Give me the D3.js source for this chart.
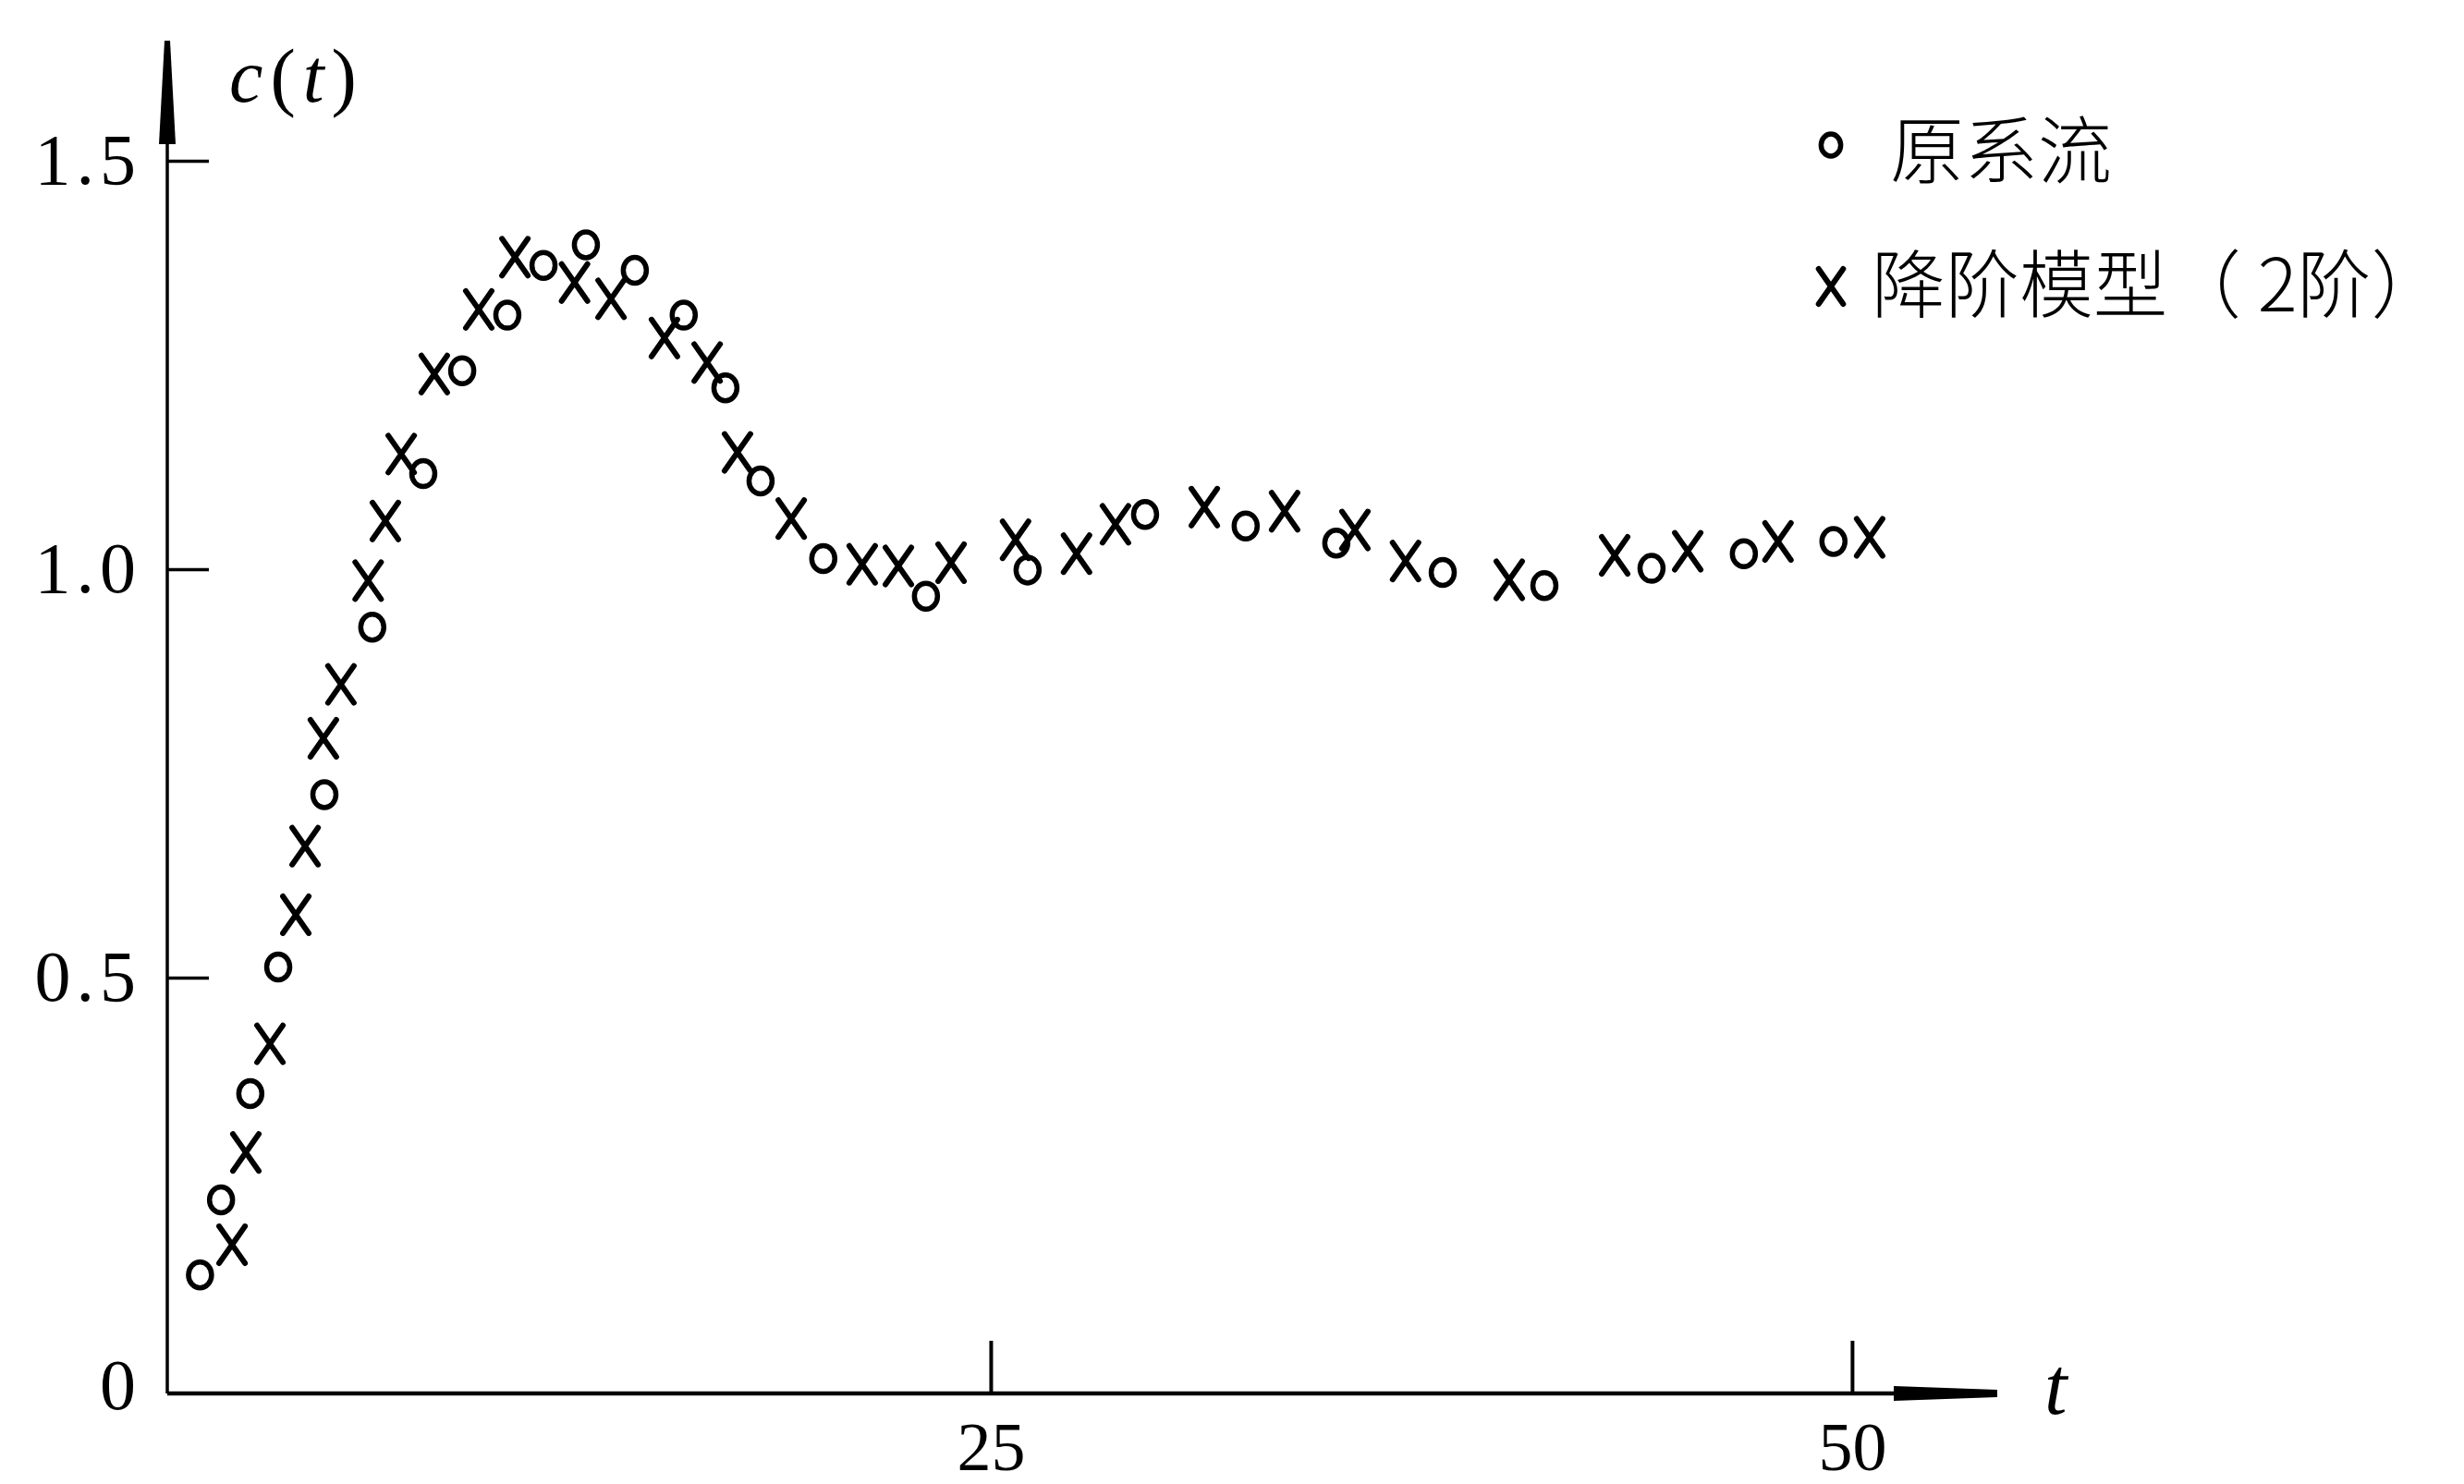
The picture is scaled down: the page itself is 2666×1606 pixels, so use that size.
<!DOCTYPE html>
<html><head><meta charset="utf-8">
<script src="https://cdn.jsdelivr.net/npm/d3@7"></script>
<style>html,body{margin:0;padding:0;background:#fff;} svg{display:block}</style>
</head><body>
<svg id="chart" width="2666" height="1606"></svg>
<script>
// ---- data ----
const tOriginal = [2.05, 2.66, 3.51, 4.32, 5.66, 7.05, 8.53, 9.66, 10.97, 12.02, 13.25, 14.67, 16.09, 17.30, 18.32, 20.14, 23.12, 26.07, 29.48, 32.40, 35.03, 38.12, 41.07, 44.18, 46.86, 49.46];
const cOriginal = [0.136, 0.228, 0.358, 0.513, 0.724, 0.929, 1.117, 1.243, 1.311, 1.372, 1.397, 1.366, 1.311, 1.222, 1.108, 1.013, 0.967, 0.999, 1.067, 1.053, 1.032, 0.996, 0.980, 1.001, 1.019, 1.034];
const tReduced = [2.98, 3.38, 4.08, 4.83, 5.10, 5.63, 6.14, 6.93, 7.43, 7.89, 8.85, 10.14, 11.19, 12.92, 13.98, 15.53, 16.77, 17.65, 19.21, 21.27, 22.32, 23.85, 25.72, 27.49, 28.62, 31.20, 33.53, 35.57, 37.04, 40.05, 43.11, 45.23, 47.85, 50.51];
const cReduced = [0.173, 0.286, 0.419, 0.577, 0.661, 0.793, 0.859, 0.986, 1.059, 1.141, 1.239, 1.318, 1.382, 1.351, 1.331, 1.283, 1.253, 1.143, 1.062, 1.006, 1.004, 1.008, 1.036, 1.019, 1.055, 1.076, 1.071, 1.048, 1.010, 0.987, 1.017, 1.022, 1.034, 1.039];
const xTickValues = [25, 50];
const xTickLabels = ["25", "50"];
const yTickValues = [0, 0.5, 1.0, 1.5];
const yTickLabels = ["0", "0.5", "1.0", "1.5"];
const legendLabels = ["原系流", "降阶模型（ 2阶）"];
const xAxisLabel = "t";

// ---- layout ----
const svg = d3.select("#chart");
svg.append("rect").attr("width", 2666).attr("height", 1606).attr("fill", "#fff");
const x = d3.scaleLinear().domain([1.1, 54]).range([181, 2153]);
const y = d3.scaleLinear().domain([0, 1.5]).range([1500, 174]);
const ink = "#000";
const numFont = "'Liberation Serif', 'DejaVu Serif', serif";
const cjkFont = "'Noto Sans CJK SC', 'Noto Sans CJK JP', sans-serif";
const x0 = x.range()[0];
const xAxisY = y(0) + 8;

// y axis line + arrow
svg.append("line").attr("x1", x0).attr("x2", x0).attr("y1", xAxisY).attr("y2", 150)
  .attr("stroke", ink).attr("stroke-width", 3.5);
svg.append("polygon")
  .attr("points", [[x0 - 9, 156], [x0 + 9, 156], [x0 + 3, 44], [x0 - 3, 44]].map(p => p.join(",")).join(" "))
  .attr("fill", ink);

// x axis line + arrow
svg.append("line").attr("x1", x0).attr("x2", 2150).attr("y1", xAxisY).attr("y2", xAxisY)
  .attr("stroke", ink).attr("stroke-width", 4.5);
svg.append("polygon")
  .attr("points", [[2049, xAxisY - 8], [2161, xAxisY - 4], [2161, xAxisY + 4], [2049, xAxisY + 8]].map(p => p.join(",")).join(" "))
  .attr("fill", ink);

// y ticks
const gy = svg.append("g").attr("transform", `translate(${x0},0)`)
  .call(d3.axisLeft(y).tickValues(yTickValues).tickFormat((d, i) => yTickLabels[i])
    .tickSizeInner(-45).tickSizeOuter(0).tickPadding(28));
gy.select(".domain").remove();
gy.selectAll(".tick line").attr("stroke", ink).attr("stroke-width", 3.5)
  .attr("display", d => d === 0 ? "none" : null);
gy.selectAll(".tick text").attr("fill", ink).attr("font-family", numFont)
  .attr("font-size", 78).attr("letter-spacing", 6);

// x ticks
const gx = svg.append("g").attr("transform", `translate(0,${xAxisY})`)
  .call(d3.axisBottom(x).tickValues(xTickValues).tickFormat((d, i) => xTickLabels[i])
    .tickSizeInner(-57).tickSizeOuter(0).tickPadding(30));
gx.select(".domain").remove();
gx.selectAll(".tick line").attr("stroke", ink).attr("stroke-width", 4);
gx.selectAll(".tick text").attr("fill", ink).attr("font-family", numFont).attr("font-size", 74);

// axis labels
const cl = svg.append("text").attr("x", 248).attr("y", 110).attr("font-family", numFont)
  .attr("font-size", 82).attr("letter-spacing", 8).attr("fill", ink);
cl.append("tspan").attr("font-style", "italic").text("c");
cl.append("tspan").text("(");
cl.append("tspan").attr("font-style", "italic").text("t");
cl.append("tspan").text(")");
svg.append("text").attr("x", 2212).attr("y", 1530).attr("font-family", numFont)
  .attr("font-size", 88).attr("font-style", "italic").attr("fill", ink).text(xAxisLabel);

// markers
function drawCircle(g, cx, cy, s) {
  g.append("ellipse").attr("cx", cx).attr("cy", cy).attr("rx", 12.5 * s).attr("ry", 14 * s)
    .attr("fill", "none").attr("stroke", ink).attr("stroke-width", 5.5);
}
function drawCross(g, cx, cy, s) {
  const w = 14 * s, h = 20 * s;
  g.append("path")
    .attr("d", `M${cx - w},${cy - h}L${cx + w},${cy + h}M${cx + w},${cy - h}L${cx - w},${cy + h}`)
    .attr("fill", "none").attr("stroke", ink).attr("stroke-width", 6).attr("stroke-linecap", "round");
}
const gO = svg.append("g");
tOriginal.forEach((t, i) => drawCircle(gO, x(t), y(cOriginal[i]), 1));
const gR = svg.append("g");
tReduced.forEach((t, i) => drawCross(gR, x(t), y(cReduced[i]), 1));

// legend
const lg = svg.append("g");
drawCircle(lg, 1981, 157, 0.85);
drawCross(lg, 1981, 310, 0.95);
lg.append("text").attr("x", 2045).attr("y", 192).attr("font-family", cjkFont).attr("font-size", 80)
  .attr("font-weight", 300).attr("fill", ink).text(legendLabels[0]);
lg.append("text").attr("x", 2025).attr("y", 337).attr("font-family", cjkFont).attr("font-size", 80)
  .attr("font-weight", 300).attr("fill", ink).attr("xml:space", "preserve").text(legendLabels[1]);
</script>
</body></html>
